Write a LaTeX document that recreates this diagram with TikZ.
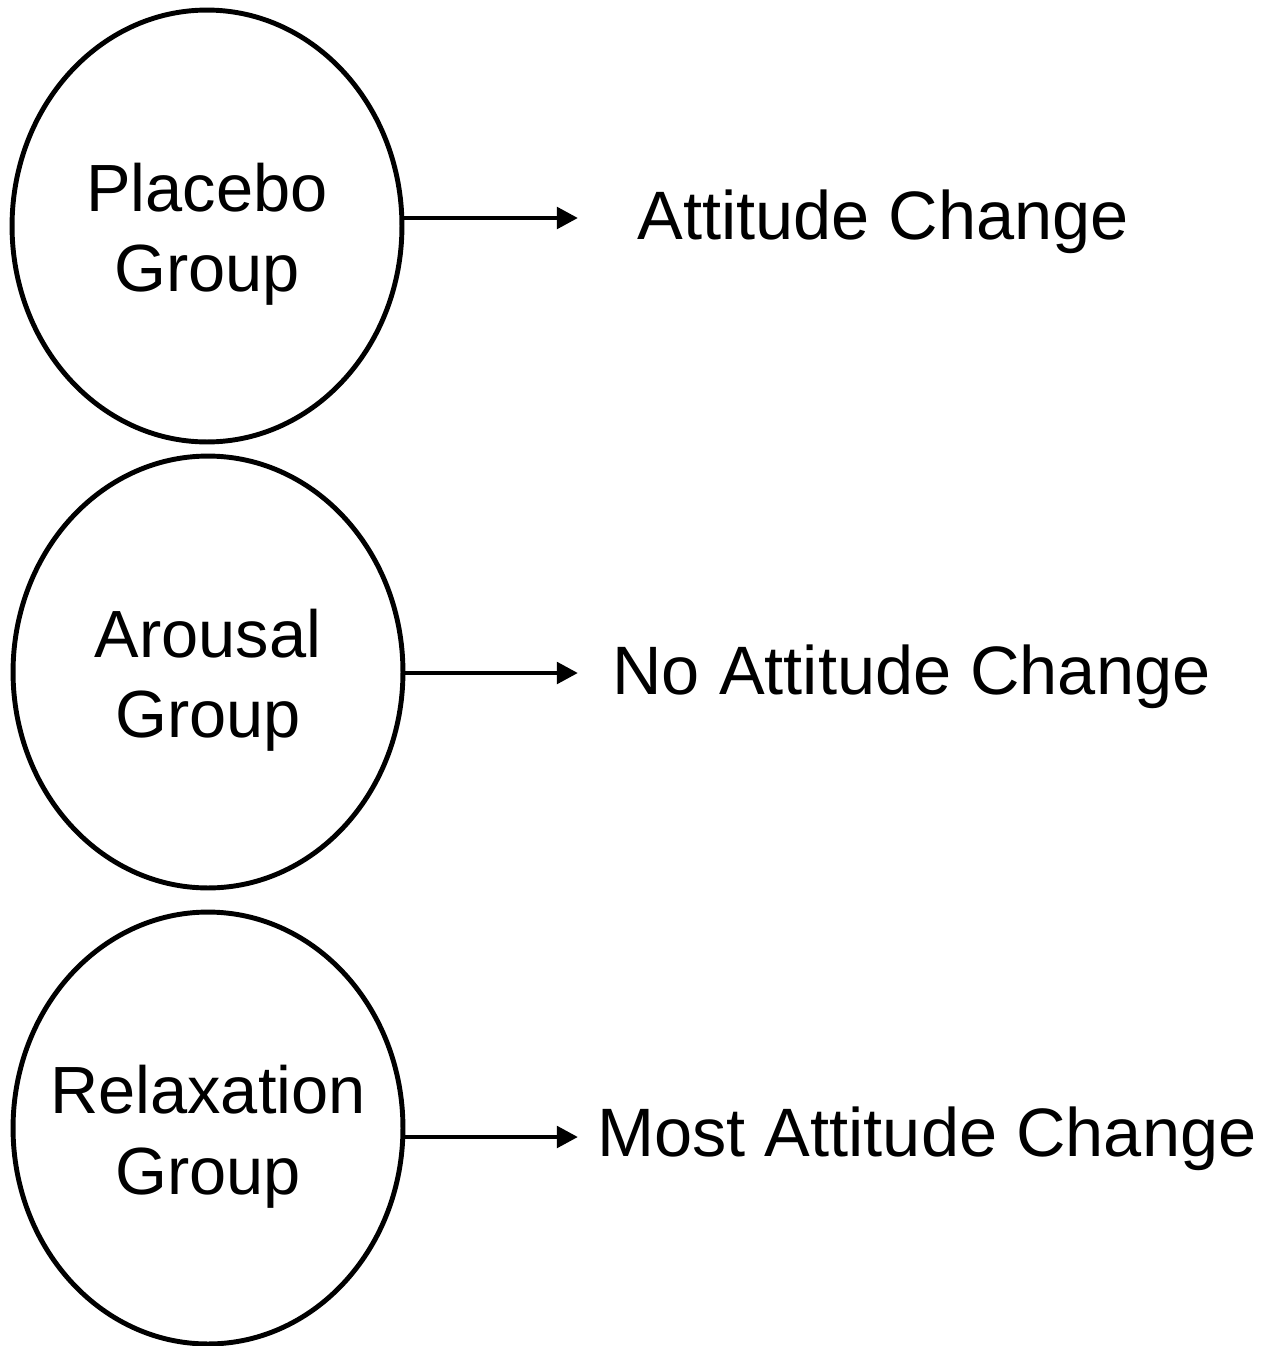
\documentclass[tikz,border=0pt]{standalone}
\usepackage{fontspec}
\setmainfont{Liberation Sans}
\usetikzlibrary{arrows.meta}
\usetikzlibrary{shapes.geometric}
\tikzset{
  group/.style={ellipse,draw,line width=2.8pt,minimum width=7.8cm,
    minimum height=8.64cm,inner sep=0pt,align=center,
    font=\fontsize{38}{46}\selectfont},
  outcome/.style={anchor=west,inner sep=0pt,font=\fontsize{39}{46}\selectfont}
}
% two centred lines that may stick out of the ellipse
\newcommand\twolines[2]{\rule{0pt}{37pt}\makebox[0pt]{#1}\\\makebox[0pt]{#2}}

\begin{document}
\begin{tikzpicture}[
% one arrow head for all connectors
-{Triangle[length=12pt,width=12pt]},line width=2.8pt,x=0.02cm,y=-0.02cm]

\useasboundingbox (0,0) rectangle (1270,1346);

\node[group] (placebo) at (207,226) {\twolines{Placebo}{Group}};
\node[group] (arousal) at (208,672) {\twolines{Arousal}{Group}};
\node[group] (relax) at (208,1128) {\twolines{Relaxation}{Group}};

\node[outcome] (att) at (635,222) {Attitude Change};
\node[outcome] (noatt) at (610,677) {No Attitude Change};
\node[outcome] (mostatt) at (595,1139) {Most Attitude Change};

\coordinate (endp) at (578,218);
\coordinate (enda) at (578,673);
\coordinate (endr) at (578,1137);

\draw (placebo.east |- endp) -- (endp);
\draw (arousal.east |- enda) -- (enda);
\draw (relax.east |- endr) -- (endr);
\end{tikzpicture}
\end{document}
